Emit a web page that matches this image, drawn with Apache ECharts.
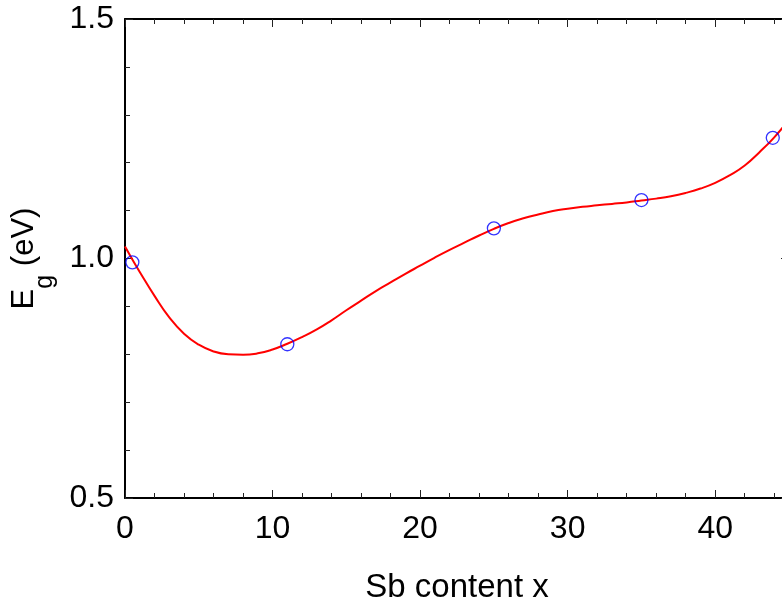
<!DOCTYPE html>
<html>
<head>
<meta charset="utf-8">
<script src="https://cdn.jsdelivr.net/npm/echarts@6/dist/echarts.min.js"></script>
<style>
html,body{margin:0;padding:0;background:#fff;}
#chart{width:782px;height:603px;}
</style>
</head>
<body>
<div id="chart"></div>
<script>
// Measured data points (circles)
const pointX = [0.5, 11, 25, 35, 43.9];
const pointY = [0.992, 0.821, 1.063, 1.122, 1.252];

// Fitted curve
const curveX = [0, 0.5, 1, 2, 3, 4, 5, 6, 7, 8, 9, 10, 11, 12, 13, 14, 15, 16, 17, 18, 19, 20, 21, 22, 23, 24, 25, 26, 27, 28, 29, 30, 31, 32, 33, 34, 35, 36, 37, 38, 39, 40, 41, 42, 43, 44, 45];
const curveY = [1.025, 0.998, 0.972, 0.922, 0.877, 0.843, 0.820, 0.806, 0.800, 0.799, 0.802, 0.810, 0.822, 0.836, 0.852, 0.871, 0.892, 0.912, 0.932, 0.950, 0.968, 0.985, 1.002, 1.018, 1.033, 1.048, 1.062, 1.074, 1.084, 1.092, 1.099, 1.104, 1.108, 1.111, 1.114, 1.117, 1.121, 1.125, 1.130, 1.137, 1.146, 1.158, 1.174, 1.194, 1.222, 1.253, 1.290];

const xTickLabels = [0, 10, 20, 30, 40];
const yTickLabels = ['0.5', '1.0', '1.5'];

const FONT = 'Liberation Sans, Arial, Helvetica, sans-serif';
const chart = echarts.init(document.getElementById('chart'), null, {renderer: 'canvas'});

const lineBlack = {color: '#000', width: 2};
const tickStyle = {color: '#222', width: 1};

function xAxisDef(pos, major, withLabels) {
  return {
    type: 'value', gridIndex: 0, position: pos,
    min: 0, max: 45, interval: major ? 10 : 2,
    axisLine: {show: major, onZero: false, lineStyle: lineBlack},
    axisTick: {show: true, inside: true, length: major ? 8 : 5, lineStyle: tickStyle},
    axisLabel: withLabels ? {
      show: true, fontSize: 32, color: '#000', fontFamily: FONT, margin: 15,
      showMaxLabel: false,
      formatter: function (v) { return xTickLabels.indexOf(v) >= 0 ? String(v) : ''; }
    } : {show: false},
    splitLine: {show: false},
    name: withLabels ? 'Sb content x' : '',
    nameLocation: 'middle', nameGap: 73,
    nameTextStyle: {fontSize: 33, color: '#000', fontFamily: FONT}
  };
}

function yAxisDef(pos, withLabels) {
  return {
    type: 'value', gridIndex: 0, position: pos,
    min: 0.5, max: 1.5, interval: 0.5,
    axisLine: {show: true, onZero: false, lineStyle: lineBlack},
    axisTick: {show: true, inside: true, length: 8, lineStyle: tickStyle},
    minorTick: {show: true, splitNumber: 5, length: 5, lineStyle: tickStyle},
    axisLabel: withLabels ? {
      show: true, fontSize: 32, color: '#000', fontFamily: FONT, margin: 11,
      formatter: function (v) { return yTickLabels.indexOf(v.toFixed(1)) >= 0 ? v.toFixed(1) : ''; }
    } : {show: false},
    splitLine: {show: false},
    name: withLabels ? '{a|E}{b|g}{a| (eV)}' : '',
    nameLocation: 'middle', nameGap: 67,
    nameTextStyle: withLabels ? {
      color: '#000', fontFamily: FONT,
      rich: {
        a: {fontSize: 31, lineHeight: 68, color: '#000', fontFamily: FONT},
        b: {fontSize: 25, verticalAlign: 'bottom', color: '#000', fontFamily: FONT}
      }
    } : {}
  };
}

const option = {
  backgroundColor: '#fff',
  animation: false,
  grid: {left: 125, top: 19, width: 664, height: 479, containLabel: false, outerBoundsMode: 'none'},
  xAxis: [
    xAxisDef('bottom', true, true),
    xAxisDef('bottom', false, false),
    xAxisDef('top', true, false),
    xAxisDef('top', false, false)
  ],
  yAxis: [
    yAxisDef('left', true),
    yAxisDef('right', false)
  ],
  series: [
    {
      type: 'line', xAxisIndex: 0, yAxisIndex: 0,
      data: curveX.map((x, i) => [x, curveY[i]]),
      showSymbol: false, smooth: 0.5,
      lineStyle: {color: '#ff0000', width: 2},
      z: 2
    },
    {
      type: 'scatter', xAxisIndex: 0, yAxisIndex: 0,
      data: pointX.map((x, i) => [x, pointY[i]]),
      symbol: 'circle', symbolSize: 13,
      itemStyle: {color: 'rgba(0,0,0,0)', borderColor: '#0000ff', borderWidth: 1.3},
      z: 3
    }
  ]
};
chart.setOption(option);
</script>
</body>
</html>
